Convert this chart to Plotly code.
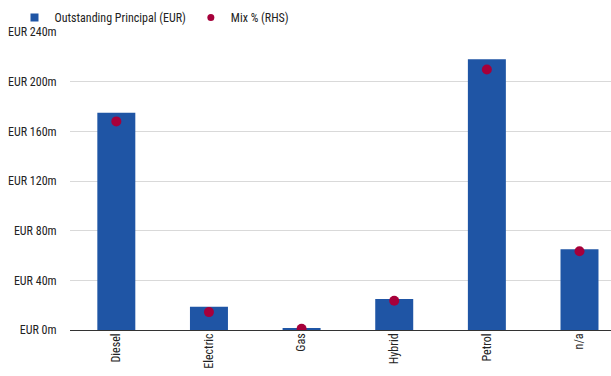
import plotly.graph_objects as go

# Outstanding principal and portfolio mix by fuel type
fuel_types = ["Diesel", "Electric", "Gas", "Hybrid", "Petrol", "n/a"]
principal_eur_m = [175.0, 18.8, 1.5, 25.0, 218.0, 65.0]
mix_pct = [35.0, 3.0, 0.2, 4.9, 43.7, 13.2]

y_ticks = [0, 40, 80, 120, 160, 200, 240]
y_tick_labels = [f"EUR {v}m" for v in y_ticks]

BAR_BLUE = "#1f55a5"
DOT_RED = "#a6003a"
FONT = "Liberation Sans Narrow, Roboto Condensed, Roboto, sans-serif"

fig = go.Figure()

fig.add_trace(go.Bar(
    x=fuel_types,
    y=principal_eur_m,
    name="Outstanding Principal (EUR)",
    marker=dict(color=BAR_BLUE, line=dict(width=0)),
    width=0.41,
    showlegend=False,
))

fig.add_trace(go.Scatter(
    x=fuel_types,
    y=mix_pct,
    name="Mix % (RHS)",
    mode="markers",
    marker=dict(color=DOT_RED, size=10),
    yaxis="y2",
    showlegend=False,
))

# Legend entries with compact symbols
fig.add_trace(go.Scatter(
    x=[None], y=[None], mode="markers", name="Outstanding Principal (EUR)",
    marker=dict(symbol="square", color=BAR_BLUE, size=8),
))
fig.add_trace(go.Scatter(
    x=[None], y=[None], mode="markers", name="Mix % (RHS)",
    marker=dict(symbol="circle", color=DOT_RED, size=7),
))

fig.update_layout(
    width=611,
    height=376,
    margin=dict(l=70, r=0, t=32, b=46),
    paper_bgcolor="white",
    plot_bgcolor="white",
    font=dict(family=FONT, size=12, color="#222222"),
    bargap=0.59,
    legend=dict(
        orientation="h",
        x=-0.1026,
        xanchor="left",
        y=1.0,
        yanchor="bottom",
        font=dict(family=FONT, size=12, color="#222222"),
        itemwidth=30,
        bgcolor="rgba(0,0,0,0)",
    ),
    xaxis=dict(
        range=[-0.5, 5.34],
        tickangle=-90,
        showgrid=False,
        showline=False,
        ticks="",
        tickfont=dict(family=FONT, size=12, color="#222222"),
        fixedrange=True,
    ),
    yaxis=dict(
        range=[0, 240],
        tickvals=y_ticks,
        ticktext=y_tick_labels,
        showgrid=True,
        gridcolor="#d9d9d9",
        gridwidth=1,
        zeroline=True,
        zerolinecolor="#333333",
        zerolinewidth=1,
        showline=False,
        ticks="outside",
        ticklen=10,
        tickcolor="rgba(0,0,0,0)",
        tickfont=dict(family=FONT, size=12, color="#222222"),
        fixedrange=True,
    ),
    yaxis2=dict(
        range=[0, 50],
        overlaying="y",
        side="right",
        visible=False,
        fixedrange=True,
    ),
)

fig.write_html("out.html")
